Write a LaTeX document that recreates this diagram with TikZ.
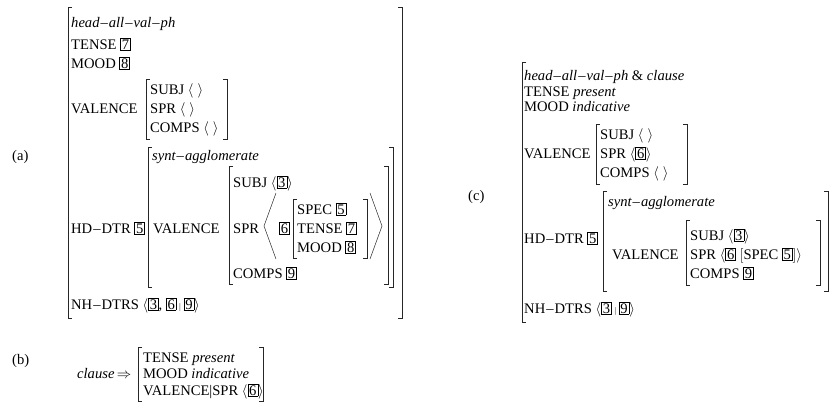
\documentclass[tikz,border=0pt]{standalone}
\usepackage{fontspec}
\setmainfont{Liberation Serif}
\usetikzlibrary{positioning}
\newcommand{\tg}[1]{{\setlength{\fboxsep}{1.1pt}\setlength{\fboxrule}{0.5pt}\fbox{#1}}}
\newcommand{\ang}[1]{$\langle$#1$\rangle$}
\newcommand{\dsh}{\kern1pt--\kern1pt}
\newcommand{\avmL}[3]{\draw[brk] (#1+4,#2) -- (#1,#2) -- (#1,#3) -- (#1+4,#3);}
\newcommand{\avmR}[3]{\draw[brk] (#1-4,#2) -- (#1,#2) -- (#1,#3) -- (#1-4,#3);}
\tikzset{
	feat/.style={anchor=base west, inner sep=0pt, font=\fontsize{14.6}{17}\selectfont},
	panel/.style={feat},
	brk/.style={line width=0.6pt, black!85},
	angl/.style={line width=0.5pt, black!85},
}
\begin{document}
\begin{tikzpicture}[x=1pt, y=-1pt]
	\useasboundingbox (0,0) rectangle (834,404);
	% (a)
	\node[panel](la) at (12,160){(a)};
	\node[feat](aType) at (71,28){\textit{head\dsh all\dsh val\dsh ph}};
	\node[feat](aTense) at (71,49){TENSE \tg{7}};
	\node[feat](aMood) at (71,68){MOOD \tg{8}};
	\node[feat](aVal) at (71,113){VALENCE};
	\avmL{146}{79}{139}
	\node[feat](aSubj) at (150,94){SUBJ \ang{\;}};
	\node[feat](aSpr) at (150,113){SPR \ang{\;}};
	\node[feat](aComps) at (150,132){COMPS \ang{\;}};
	\avmR{227}{79}{139}
	\node[feat](aHd) at (71,233){HD\dsh DTR \tg{5}};
	\avmL{148}{147}{287}
	\node[feat](aSynt) at (152,160){\textit{synt\dsh agglomerate}};
	\node[feat](aVal2) at (153,233){VALENCE};
	\avmL{229}{166}{284}
	\node[feat](aSubj2) at (233,187){SUBJ \ang{\tg{3}}};
	\node[feat](aSpr2) at (233,233){SPR};
	\draw[angl](276,193)--(264,226)--(276,259);
	\node[feat](aSix) at (279,233){\tg{6}};
	\avmL{293}{199}{258}
	\node[feat](aSpec) at (297,214){SPEC \tg{5}};
	\node[feat](aTense2) at (297,233){TENSE \tg{7}};
	\node[feat](aMood2) at (297,252){MOOD \tg{8}};
	\avmR{367}{199}{258}
	\draw[angl](370,193)--(382,226)--(370,259);
	\node[feat](aComps2) at (233,278){COMPS \tg{9}};
	\avmR{388}{166}{284}
	\avmR{393}{147}{287}
	\node[feat](aNh) at (71,309){NH\dsh DTRS \ang{\tg{3}, \tg{6}\,{\footnotesize$|$}\,\tg{9}}};
	\avmL{68}{7}{318}
	\avmR{402}{7}{318}
	% (b)
	\node[panel](lb) at (12,364){(b)};
	\node[feat](bClause) at (77,378){\textit{clause}\,$\Rightarrow$};
	\avmL{138}{347}{401}
	\node[feat](bTense) at (143,362){TENSE \textit{present}};
	\node[feat](bMood) at (143,378){MOOD \textit{indicative}};
	\node[feat](bVal) at (143,395){VALENCE\textbar SPR \ang{\tg{6}}};
	\avmR{263}{347}{401}
	% (c)
	\node[panel](lc) at (468,200){(c)};
	\node[feat](cType) at (524,80){\textit{head\dsh all\dsh val\dsh ph} \& \textit{clause}};
	\node[feat](cTense) at (524,96){TENSE \textit{present}};
	\node[feat](cMood) at (524,111){MOOD \textit{indicative}};
	\node[feat](cVal) at (524,158){VALENCE};
	\avmL{596}{124}{184}
	\node[feat](cSubj) at (600,139){SUBJ \ang{\;}};
	\node[feat](cSpr) at (600,158){SPR \ang{\tg{6}}};
	\node[feat](cComps) at (600,177){COMPS \ang{\;}};
	\avmR{687}{124}{184}
	\node[feat](cHd) at (524,243){HD\dsh DTR \tg{5}};
	\avmL{603}{191}{291}
	\node[feat](cSynt) at (608,206){\textit{synt\dsh agglomerate}};
	\node[feat](cVal2) at (612,259){VALENCE};
	\avmL{686}{220}{285}
	\node[feat](cSubj2) at (690,240){SUBJ \ang{\tg{3}}};
	\node[feat](cSpr2) at (690,259){SPR $\bigl\langle$\tg{6} $\bigl[$SPEC \tg{5}$\bigr]\bigr\rangle$};
	\node[feat](cComps2) at (690,278){COMPS \tg{9}};
	\avmR{820}{220}{285}
	\avmR{828}{191}{291}
	\node[feat](cNh) at (524,313){NH\dsh DTRS \ang{\tg{3}\,{\footnotesize$|$}\,\tg{9}}};
	\avmL{522}{62}{322}
\end{tikzpicture}
\end{document}
